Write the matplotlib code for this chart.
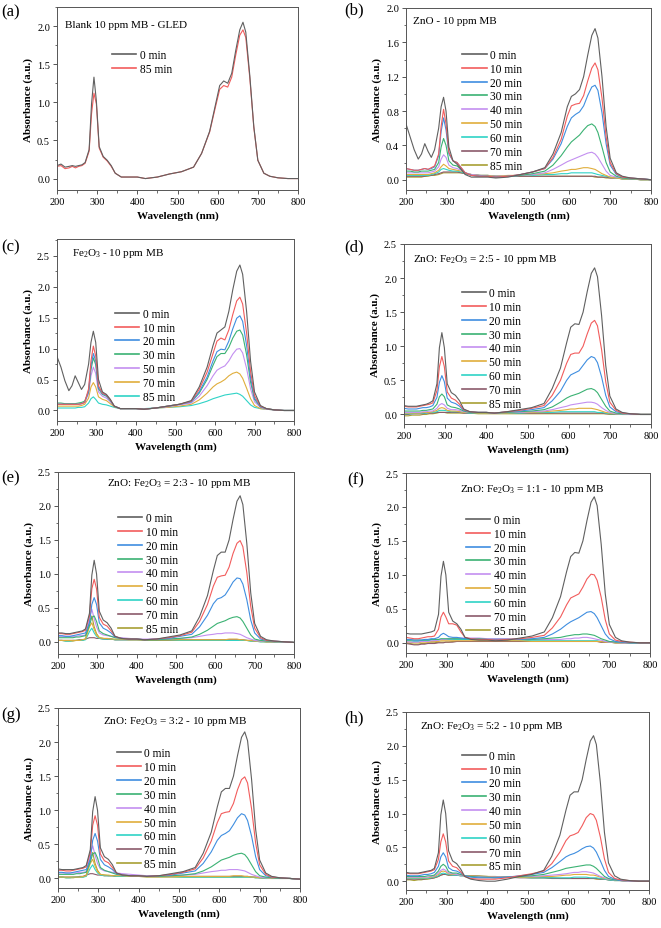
import matplotlib
matplotlib.use("Agg")
import matplotlib.pyplot as plt
from matplotlib.ticker import MultipleLocator, FormatStrFormatter

plt.rcParams['font.family'] = ['Liberation Serif', 'DejaVu Serif']
plt.rcParams['mathtext.fontset'] = 'custom'
plt.rcParams['mathtext.rm'] = 'Liberation Serif'
plt.rcParams['mathtext.it'] = 'Liberation Serif:italic'
plt.rcParams['mathtext.bf'] = 'Liberation Serif:bold'

# wavelength grid (nm) shared by every spectrum
wl = [200, 210, 220, 230, 238, 246, 254, 262, 270, 280, 286, 292, 298, 305, 315, 325, 335, 345, 360, 380,
      400, 420, 450, 480, 510, 540, 560, 580, 595, 605, 615, 625, 635, 645, 655, 663, 670, 680, 690, 700,
      715, 730, 750, 775, 800]

times_full = ['0 min', '10 min', '20 min', '30 min', '40 min', '50 min', '60 min', '70 min', '85 min']
times_a = ['0 min', '85 min']
times_c = ['0 min', '10 min', '20 min', '30 min', '50 min', '70 min', '85 min']

spec_a = [
    [0.17,0.19,0.15,0.16,0.17,0.16,0.17,0.18,0.21,0.38,0.98,1.33,1.02,0.42,0.29,0.24,0.17,0.07,0.02,0.02,0.02,0.00,0.02,0.06,0.09,0.15,0.33,0.62,0.98,1.22,1.28,1.25,1.38,1.68,1.95,2.05,1.92,1.35,0.68,0.24,0.07,0.03,0.01,0.00,0.00],
    [0.16,0.17,0.13,0.14,0.16,0.14,0.16,0.17,0.20,0.36,0.85,1.12,0.98,0.40,0.28,0.23,0.16,0.07,0.02,0.02,0.02,0.00,0.02,0.06,0.09,0.15,0.33,0.61,0.95,1.17,1.22,1.20,1.33,1.62,1.88,1.95,1.85,1.32,0.67,0.24,0.07,0.03,0.01,0.00,0.00],
]

spec_b = [
    [0.65,0.50,0.35,0.24,0.30,0.42,0.33,0.26,0.35,0.60,0.85,0.96,0.80,0.38,0.22,0.18,0.12,0.06,0.03,0.03,0.03,0.02,0.03,0.06,0.09,0.14,0.30,0.55,0.85,0.97,1.00,1.05,1.20,1.45,1.68,1.76,1.65,1.20,0.62,0.25,0.08,0.04,0.02,0.01,0.00],
    [0.13,0.12,0.11,0.11,0.12,0.13,0.12,0.14,0.16,0.30,0.62,0.82,0.65,0.32,0.22,0.20,0.14,0.08,0.05,0.04,0.04,0.03,0.04,0.06,0.09,0.13,0.26,0.47,0.74,0.86,0.88,0.89,0.98,1.15,1.30,1.36,1.28,0.95,0.50,0.20,0.07,0.03,0.02,0.01,0.00],
    [0.13,0.12,0.11,0.11,0.12,0.13,0.12,0.13,0.15,0.28,0.56,0.72,0.58,0.30,0.22,0.20,0.14,0.08,0.05,0.04,0.04,0.03,0.04,0.06,0.09,0.13,0.24,0.42,0.62,0.72,0.76,0.79,0.86,0.98,1.08,1.10,1.04,0.78,0.42,0.17,0.06,0.03,0.02,0.01,0.00],
    [0.10,0.10,0.09,0.09,0.10,0.10,0.10,0.11,0.12,0.20,0.38,0.48,0.40,0.22,0.17,0.16,0.12,0.08,0.05,0.04,0.04,0.03,0.04,0.05,0.07,0.10,0.17,0.28,0.38,0.44,0.48,0.52,0.58,0.63,0.65,0.62,0.55,0.38,0.20,0.09,0.04,0.02,0.01,0.01,0.00],
    [0.08,0.08,0.08,0.08,0.08,0.08,0.08,0.09,0.10,0.15,0.24,0.29,0.26,0.17,0.14,0.13,0.11,0.08,0.06,0.05,0.04,0.04,0.04,0.05,0.06,0.08,0.12,0.17,0.21,0.23,0.25,0.27,0.29,0.31,0.32,0.30,0.26,0.18,0.10,0.05,0.03,0.02,0.01,0.01,0.00],
    [0.06,0.06,0.06,0.06,0.06,0.06,0.06,0.07,0.08,0.11,0.15,0.18,0.16,0.13,0.12,0.11,0.10,0.08,0.06,0.05,0.05,0.04,0.05,0.05,0.06,0.07,0.08,0.10,0.11,0.12,0.12,0.13,0.14,0.14,0.13,0.12,0.10,0.07,0.05,0.03,0.02,0.01,0.01,0.00,0.00],
    [0.05,0.05,0.05,0.05,0.05,0.05,0.05,0.06,0.07,0.09,0.12,0.13,0.12,0.11,0.10,0.10,0.09,0.07,0.06,0.05,0.05,0.04,0.04,0.05,0.05,0.06,0.06,0.07,0.07,0.08,0.08,0.08,0.08,0.08,0.08,0.07,0.06,0.05,0.04,0.03,0.02,0.01,0.01,0.00,0.00],
    [0.04,0.04,0.04,0.04,0.04,0.04,0.05,0.05,0.06,0.07,0.08,0.09,0.09,0.09,0.09,0.09,0.08,0.07,0.06,0.05,0.05,0.04,0.04,0.04,0.04,0.04,0.04,0.04,0.04,0.04,0.04,0.04,0.04,0.04,0.04,0.04,0.03,0.03,0.03,0.02,0.02,0.01,0.01,0.00,0.00],
    [0.03,0.03,0.03,0.03,0.03,0.04,0.04,0.05,0.05,0.06,0.07,0.08,0.08,0.08,0.08,0.08,0.08,0.07,0.06,0.05,0.04,0.04,0.04,0.04,0.04,0.04,0.04,0.04,0.04,0.04,0.04,0.04,0.04,0.04,0.04,0.03,0.03,0.03,0.02,0.02,0.02,0.01,0.01,0.00,0.00],
]

spec_c = [
    [0.87,0.70,0.48,0.32,0.40,0.56,0.45,0.34,0.42,0.75,1.10,1.28,1.10,0.50,0.30,0.26,0.18,0.07,0.03,0.03,0.03,0.02,0.04,0.07,0.10,0.16,0.38,0.70,1.05,1.25,1.30,1.35,1.60,1.95,2.25,2.35,2.20,1.60,0.80,0.30,0.08,0.03,0.01,0.00,0.00],
    [0.10,0.10,0.10,0.10,0.10,0.10,0.10,0.11,0.13,0.35,0.80,1.04,0.88,0.40,0.28,0.25,0.17,0.07,0.03,0.03,0.03,0.02,0.04,0.07,0.10,0.15,0.34,0.62,0.92,1.12,1.17,1.14,1.30,1.55,1.77,1.83,1.72,1.25,0.63,0.24,0.07,0.03,0.01,0.00,0.00],
    [0.10,0.10,0.10,0.10,0.10,0.10,0.10,0.11,0.13,0.32,0.72,0.92,0.80,0.37,0.27,0.24,0.16,0.07,0.03,0.03,0.03,0.02,0.04,0.07,0.10,0.14,0.30,0.54,0.80,0.95,0.99,0.98,1.12,1.32,1.49,1.53,1.44,1.05,0.53,0.20,0.06,0.03,0.01,0.00,0.00],
    [0.12,0.12,0.11,0.11,0.11,0.11,0.12,0.13,0.15,0.30,0.66,0.85,0.74,0.35,0.26,0.23,0.16,0.07,0.03,0.03,0.03,0.02,0.04,0.07,0.10,0.14,0.28,0.50,0.73,0.87,0.92,0.92,1.02,1.17,1.28,1.30,1.22,0.90,0.46,0.18,0.06,0.03,0.01,0.00,0.00],
    [0.10,0.10,0.10,0.10,0.10,0.10,0.10,0.11,0.13,0.27,0.56,0.70,0.60,0.30,0.23,0.20,0.14,0.07,0.03,0.03,0.03,0.02,0.04,0.06,0.09,0.12,0.23,0.40,0.56,0.65,0.69,0.72,0.80,0.91,0.99,1.00,0.93,0.68,0.35,0.14,0.05,0.02,0.01,0.00,0.00],
    [0.07,0.07,0.07,0.07,0.07,0.07,0.07,0.08,0.10,0.20,0.38,0.45,0.38,0.22,0.18,0.16,0.11,0.06,0.03,0.03,0.03,0.02,0.04,0.05,0.07,0.10,0.17,0.28,0.38,0.43,0.46,0.50,0.56,0.60,0.62,0.59,0.52,0.36,0.19,0.08,0.03,0.02,0.01,0.00,0.00],
    [0.04,0.04,0.04,0.04,0.04,0.04,0.05,0.05,0.06,0.12,0.19,0.22,0.18,0.12,0.10,0.09,0.07,0.05,0.03,0.03,0.03,0.03,0.04,0.05,0.06,0.08,0.11,0.15,0.19,0.21,0.23,0.25,0.26,0.27,0.28,0.26,0.23,0.16,0.09,0.05,0.03,0.02,0.01,0.00,0.00],
]

spec_d = [
    [0.13,0.12,0.12,0.12,0.13,0.14,0.15,0.17,0.20,0.45,0.98,1.20,0.98,0.45,0.32,0.28,0.20,0.08,0.04,0.03,0.03,0.02,0.04,0.07,0.10,0.16,0.38,0.68,1.05,1.28,1.33,1.32,1.50,1.80,2.07,2.15,2.02,1.45,0.72,0.27,0.08,0.03,0.01,0.00,0.00],
    [0.12,0.11,0.11,0.11,0.12,0.13,0.14,0.15,0.17,0.35,0.70,0.85,0.70,0.33,0.24,0.21,0.15,0.07,0.04,0.03,0.03,0.02,0.04,0.06,0.09,0.13,0.28,0.50,0.75,0.88,0.90,0.90,1.00,1.18,1.34,1.38,1.30,0.95,0.48,0.18,0.06,0.02,0.01,0.00,0.00],
    [0.09,0.08,0.08,0.08,0.09,0.10,0.10,0.11,0.13,0.25,0.47,0.57,0.48,0.24,0.18,0.16,0.12,0.06,0.04,0.03,0.03,0.02,0.04,0.05,0.07,0.10,0.20,0.34,0.50,0.58,0.61,0.64,0.72,0.80,0.85,0.83,0.76,0.55,0.28,0.11,0.04,0.02,0.01,0.00,0.00],
    [0.05,0.05,0.05,0.05,0.05,0.06,0.06,0.07,0.08,0.15,0.26,0.30,0.26,0.14,0.11,0.10,0.08,0.05,0.03,0.03,0.03,0.02,0.03,0.04,0.05,0.07,0.11,0.18,0.24,0.27,0.29,0.31,0.34,0.37,0.38,0.36,0.32,0.22,0.12,0.05,0.02,0.01,0.01,0.00,0.00],
    [0.03,0.03,0.03,0.03,0.03,0.04,0.04,0.05,0.05,0.09,0.14,0.16,0.14,0.09,0.07,0.07,0.06,0.04,0.03,0.03,0.03,0.02,0.03,0.03,0.04,0.05,0.07,0.10,0.12,0.14,0.15,0.16,0.17,0.18,0.18,0.17,0.15,0.10,0.06,0.03,0.01,0.01,0.00,0.00,0.00],
    [0.02,0.02,0.02,0.02,0.02,0.03,0.03,0.03,0.04,0.06,0.09,0.10,0.09,0.06,0.05,0.05,0.04,0.03,0.03,0.02,0.02,0.02,0.02,0.03,0.03,0.04,0.05,0.06,0.07,0.08,0.08,0.09,0.09,0.09,0.09,0.08,0.07,0.05,0.03,0.02,0.01,0.01,0.00,0.00,0.00],
    [0.01,0.01,0.01,0.02,0.02,0.02,0.02,0.03,0.03,0.04,0.06,0.06,0.06,0.05,0.04,0.04,0.04,0.03,0.02,0.02,0.02,0.02,0.02,0.02,0.03,0.03,0.03,0.04,0.04,0.04,0.04,0.04,0.04,0.04,0.04,0.04,0.03,0.03,0.02,0.01,0.01,0.00,0.00,0.00,0.00],
    [0.00,0.00,0.01,0.01,0.01,0.01,0.02,0.02,0.02,0.03,0.03,0.03,0.03,0.03,0.03,0.03,0.03,0.02,0.02,0.02,0.02,0.02,0.02,0.02,0.02,0.02,0.02,0.02,0.02,0.02,0.02,0.02,0.02,0.02,0.02,0.02,0.02,0.02,0.01,0.01,0.01,0.00,0.00,0.00,0.00],
    [-0.02,-0.02,-0.01,-0.01,-0.01,0.00,0.00,0.01,0.01,0.02,0.03,0.03,0.03,0.02,0.02,0.02,0.02,0.02,0.02,0.01,0.01,0.01,0.01,0.01,0.01,0.01,0.01,0.01,0.01,0.01,0.01,0.01,0.01,0.01,0.01,0.01,0.01,0.01,0.01,0.00,0.00,0.00,0.00,0.00,0.00],
]

spec_e = [
    [0.13,0.13,0.12,0.12,0.13,0.14,0.15,0.16,0.19,0.42,0.98,1.20,1.00,0.45,0.32,0.28,0.20,0.08,0.05,0.04,0.04,0.03,0.04,0.07,0.10,0.16,0.37,0.68,1.05,1.27,1.32,1.32,1.50,1.80,2.07,2.15,2.02,1.45,0.72,0.27,0.08,0.03,0.01,0.00,-0.01],
    [0.12,0.12,0.11,0.11,0.12,0.13,0.14,0.15,0.17,0.38,0.78,0.92,0.78,0.36,0.26,0.23,0.16,0.08,0.05,0.04,0.04,0.03,0.04,0.06,0.09,0.14,0.30,0.55,0.82,0.95,0.97,0.98,1.10,1.30,1.45,1.49,1.40,1.02,0.52,0.20,0.06,0.02,0.01,0.00,-0.01],
    [0.09,0.09,0.08,0.08,0.09,0.10,0.11,0.12,0.13,0.28,0.55,0.65,0.55,0.28,0.20,0.17,0.13,0.07,0.05,0.04,0.04,0.03,0.04,0.05,0.08,0.11,0.22,0.39,0.56,0.63,0.65,0.69,0.78,0.88,0.94,0.93,0.85,0.62,0.32,0.13,0.04,0.02,0.01,0.00,-0.01],
    [0.06,0.06,0.06,0.06,0.06,0.07,0.07,0.08,0.09,0.24,0.36,0.38,0.30,0.16,0.12,0.10,0.08,0.06,0.05,0.04,0.04,0.03,0.03,0.04,0.05,0.07,0.11,0.17,0.23,0.27,0.29,0.31,0.34,0.36,0.37,0.35,0.30,0.20,0.10,0.04,0.02,0.01,0.00,0.00,-0.01],
    [0.08,0.08,0.08,0.08,0.08,0.08,0.09,0.09,0.10,0.35,0.48,0.34,0.22,0.13,0.10,0.09,0.08,0.07,0.06,0.05,0.04,0.04,0.04,0.04,0.05,0.06,0.08,0.10,0.11,0.12,0.12,0.13,0.13,0.13,0.12,0.11,0.09,0.06,0.04,0.02,0.01,0.01,0.00,0.00,-0.01],
    [0.02,0.02,0.02,0.02,0.02,0.02,0.02,0.03,0.04,0.22,0.28,0.18,0.10,0.06,0.05,0.05,0.04,0.04,0.04,0.03,0.03,0.03,0.03,0.03,0.03,0.03,0.03,0.03,0.03,0.03,0.03,0.03,0.04,0.04,0.04,0.03,0.03,0.02,0.02,0.01,0.01,0.00,0.00,0.00,-0.01],
    [0.02,0.02,0.01,0.01,0.02,0.02,0.02,0.02,0.03,0.15,0.20,0.13,0.08,0.05,0.04,0.04,0.04,0.03,0.03,0.03,0.03,0.03,0.03,0.03,0.02,0.02,0.02,0.02,0.02,0.02,0.02,0.02,0.02,0.02,0.02,0.02,0.02,0.02,0.01,0.01,0.00,0.00,0.00,0.00,-0.01],
    [0.02,0.02,0.02,0.02,0.02,0.02,0.03,0.03,0.04,0.06,0.06,0.06,0.05,0.05,0.04,0.04,0.04,0.03,0.03,0.03,0.03,0.03,0.03,0.03,0.03,0.03,0.03,0.03,0.03,0.03,0.03,0.03,0.03,0.03,0.03,0.03,0.03,0.02,0.02,0.01,0.01,0.00,0.00,0.00,-0.01],
    [0.02,0.02,0.01,0.01,0.01,0.02,0.02,0.02,0.04,0.30,0.38,0.22,0.12,0.06,0.05,0.04,0.04,0.03,0.03,0.03,0.03,0.02,0.02,0.02,0.02,0.02,0.02,0.02,0.02,0.02,0.02,0.02,0.02,0.02,0.02,0.02,0.02,0.02,0.01,0.01,0.00,0.00,0.00,0.00,-0.01],
]

spec_f = [
    [0.14,0.13,0.13,0.13,0.13,0.14,0.15,0.16,0.18,0.42,0.98,1.20,1.00,0.45,0.32,0.28,0.20,0.08,0.05,0.04,0.04,0.03,0.04,0.07,0.10,0.16,0.37,0.68,1.05,1.27,1.33,1.32,1.50,1.80,2.07,2.15,2.02,1.45,0.72,0.27,0.08,0.03,0.01,0.00,0.00],
    [0.08,0.07,0.06,0.06,0.07,0.08,0.09,0.09,0.10,0.20,0.38,0.45,0.38,0.28,0.28,0.26,0.16,0.08,0.06,0.05,0.05,0.04,0.05,0.06,0.08,0.11,0.22,0.38,0.56,0.66,0.69,0.72,0.82,0.94,1.01,1.00,0.92,0.67,0.34,0.13,0.04,0.02,0.01,0.00,0.00],
    [0.05,0.05,0.04,0.04,0.04,0.05,0.05,0.06,0.06,0.08,0.12,0.14,0.12,0.09,0.08,0.08,0.07,0.06,0.06,0.05,0.05,0.05,0.05,0.05,0.06,0.08,0.13,0.20,0.27,0.31,0.34,0.37,0.41,0.45,0.46,0.43,0.37,0.25,0.13,0.06,0.02,0.01,0.00,0.00,0.00],
    [0.04,0.04,0.04,0.04,0.04,0.04,0.04,0.05,0.05,0.05,0.06,0.06,0.06,0.06,0.06,0.06,0.06,0.06,0.06,0.06,0.05,0.05,0.05,0.05,0.05,0.06,0.07,0.08,0.10,0.11,0.12,0.12,0.13,0.13,0.12,0.11,0.09,0.06,0.04,0.02,0.01,0.01,0.00,0.00,0.00],
    [0.02,0.01,0.01,0.01,0.02,0.02,0.02,0.03,0.03,0.04,0.05,0.05,0.05,0.06,0.06,0.07,0.07,0.07,0.07,0.07,0.06,0.06,0.06,0.05,0.05,0.05,0.05,0.05,0.06,0.06,0.07,0.07,0.08,0.08,0.07,0.06,0.05,0.04,0.02,0.01,0.01,0.00,0.00,0.00,0.00],
    [0.01,0.01,0.00,0.00,0.01,0.01,0.01,0.02,0.02,0.02,0.03,0.03,0.03,0.03,0.03,0.03,0.03,0.03,0.03,0.03,0.03,0.03,0.03,0.03,0.02,0.02,0.02,0.02,0.02,0.02,0.02,0.02,0.02,0.02,0.02,0.02,0.02,0.02,0.01,0.01,0.00,0.00,0.00,0.00,0.00],
    [0.03,0.03,0.02,0.02,0.03,0.03,0.03,0.04,0.04,0.04,0.05,0.05,0.05,0.05,0.05,0.05,0.05,0.05,0.05,0.04,0.04,0.04,0.04,0.04,0.03,0.03,0.03,0.03,0.03,0.03,0.03,0.03,0.03,0.03,0.03,0.03,0.03,0.02,0.02,0.01,0.01,0.00,0.00,0.00,0.00],
    [-0.01,-0.02,-0.03,-0.03,-0.02,-0.02,-0.01,-0.01,-0.01,0.00,0.00,0.00,0.01,0.01,0.01,0.02,0.02,0.02,0.02,0.02,0.02,0.02,0.02,0.02,0.02,0.02,0.02,0.02,0.02,0.02,0.02,0.02,0.02,0.02,0.02,0.02,0.02,0.01,0.01,0.01,0.00,0.00,0.00,0.00,0.00],
    [0.00,-0.01,-0.02,-0.02,-0.01,-0.01,0.00,0.00,0.00,0.01,0.01,0.01,0.01,0.01,0.02,0.02,0.02,0.02,0.02,0.02,0.02,0.02,0.02,0.02,0.02,0.02,0.02,0.02,0.02,0.02,0.02,0.02,0.02,0.02,0.02,0.02,0.02,0.01,0.01,0.01,0.00,0.00,0.00,0.00,0.00],
]

spec_g = [
    [0.14,0.13,0.13,0.13,0.13,0.14,0.15,0.16,0.19,0.42,0.98,1.20,1.00,0.45,0.32,0.28,0.20,0.08,0.05,0.04,0.04,0.03,0.04,0.07,0.10,0.16,0.37,0.68,1.05,1.27,1.32,1.32,1.50,1.80,2.07,2.15,2.02,1.45,0.72,0.27,0.08,0.03,0.01,0.00,-0.01],
    [0.12,0.12,0.11,0.11,0.12,0.13,0.14,0.15,0.17,0.38,0.78,0.92,0.78,0.36,0.26,0.23,0.16,0.08,0.05,0.04,0.04,0.03,0.04,0.06,0.09,0.14,0.30,0.55,0.82,0.95,0.97,0.98,1.10,1.30,1.45,1.49,1.40,1.02,0.52,0.20,0.06,0.02,0.01,0.00,-0.01],
    [0.09,0.09,0.08,0.08,0.09,0.10,0.11,0.12,0.13,0.28,0.56,0.66,0.55,0.28,0.20,0.17,0.13,0.07,0.05,0.04,0.04,0.03,0.04,0.05,0.08,0.11,0.22,0.39,0.56,0.63,0.66,0.70,0.79,0.89,0.95,0.93,0.85,0.62,0.32,0.13,0.04,0.02,0.01,0.00,-0.01],
    [0.06,0.06,0.06,0.06,0.06,0.07,0.07,0.08,0.09,0.24,0.36,0.38,0.30,0.16,0.12,0.10,0.08,0.06,0.05,0.04,0.04,0.03,0.03,0.04,0.05,0.07,0.11,0.17,0.23,0.27,0.29,0.31,0.34,0.36,0.37,0.35,0.30,0.20,0.10,0.04,0.02,0.01,0.00,0.00,-0.01],
    [0.08,0.08,0.08,0.08,0.08,0.08,0.09,0.09,0.10,0.35,0.48,0.34,0.22,0.14,0.11,0.10,0.09,0.08,0.07,0.06,0.05,0.04,0.04,0.04,0.05,0.06,0.08,0.10,0.11,0.12,0.12,0.13,0.13,0.13,0.12,0.11,0.09,0.06,0.04,0.02,0.01,0.01,0.00,0.00,-0.01],
    [0.02,0.02,0.02,0.02,0.02,0.02,0.02,0.03,0.04,0.22,0.28,0.18,0.10,0.06,0.05,0.05,0.04,0.04,0.04,0.03,0.03,0.03,0.03,0.03,0.03,0.03,0.03,0.03,0.03,0.03,0.03,0.03,0.04,0.04,0.04,0.03,0.03,0.02,0.02,0.01,0.01,0.00,0.00,0.00,-0.01],
    [0.02,0.02,0.01,0.01,0.02,0.02,0.02,0.02,0.03,0.15,0.20,0.13,0.08,0.05,0.04,0.04,0.04,0.03,0.03,0.03,0.03,0.03,0.03,0.03,0.02,0.02,0.02,0.02,0.02,0.02,0.02,0.02,0.02,0.02,0.02,0.02,0.02,0.02,0.01,0.01,0.00,0.00,0.00,0.00,-0.01],
    [0.02,0.02,0.02,0.02,0.02,0.02,0.03,0.03,0.05,0.07,0.07,0.06,0.05,0.05,0.04,0.04,0.04,0.03,0.03,0.03,0.03,0.03,0.03,0.03,0.03,0.03,0.03,0.03,0.03,0.03,0.03,0.03,0.03,0.03,0.03,0.03,0.03,0.02,0.02,0.01,0.01,0.00,0.00,0.00,-0.01],
    [0.02,0.02,0.01,0.01,0.01,0.02,0.02,0.02,0.04,0.30,0.38,0.22,0.12,0.06,0.05,0.04,0.04,0.03,0.03,0.03,0.03,0.02,0.02,0.02,0.02,0.02,0.02,0.02,0.02,0.02,0.02,0.02,0.02,0.02,0.02,0.02,0.02,0.02,0.01,0.01,0.00,0.00,0.00,0.00,-0.01],
]

spec_h = [
    [0.13,0.12,0.12,0.12,0.13,0.14,0.15,0.16,0.19,0.42,0.98,1.20,1.00,0.45,0.30,0.26,0.18,0.07,0.03,0.01,0.00,0.00,0.03,0.07,0.10,0.16,0.37,0.68,1.05,1.27,1.32,1.32,1.50,1.80,2.07,2.15,2.02,1.45,0.72,0.27,0.08,0.03,0.01,0.00,0.00],
    [0.12,0.11,0.11,0.11,0.12,0.13,0.14,0.15,0.17,0.32,0.58,0.70,0.58,0.30,0.22,0.20,0.14,0.07,0.04,0.03,0.03,0.03,0.05,0.08,0.11,0.15,0.26,0.43,0.60,0.67,0.69,0.72,0.82,0.94,1.00,0.98,0.90,0.65,0.33,0.13,0.04,0.02,0.01,0.00,0.00],
    [0.09,0.08,0.08,0.08,0.09,0.10,0.10,0.11,0.13,0.22,0.36,0.42,0.36,0.20,0.16,0.15,0.12,0.08,0.06,0.05,0.05,0.05,0.06,0.08,0.10,0.13,0.20,0.29,0.36,0.39,0.41,0.44,0.48,0.51,0.52,0.49,0.43,0.30,0.16,0.07,0.03,0.01,0.01,0.00,0.00],
    [0.07,0.07,0.07,0.07,0.07,0.07,0.08,0.08,0.09,0.15,0.22,0.25,0.22,0.14,0.12,0.12,0.10,0.08,0.07,0.06,0.06,0.05,0.06,0.07,0.08,0.10,0.13,0.16,0.19,0.20,0.21,0.22,0.23,0.24,0.24,0.22,0.19,0.13,0.07,0.04,0.02,0.01,0.01,0.00,0.00],
    [0.06,0.06,0.06,0.06,0.06,0.06,0.06,0.07,0.08,0.12,0.16,0.18,0.16,0.12,0.11,0.10,0.09,0.08,0.07,0.07,0.06,0.06,0.06,0.07,0.07,0.08,0.09,0.10,0.11,0.12,0.13,0.13,0.14,0.14,0.13,0.12,0.10,0.07,0.05,0.03,0.02,0.01,0.00,0.00,0.00],
    [0.05,0.05,0.05,0.05,0.05,0.05,0.05,0.06,0.07,0.10,0.14,0.15,0.14,0.11,0.10,0.10,0.09,0.08,0.08,0.07,0.07,0.06,0.06,0.06,0.06,0.07,0.07,0.08,0.09,0.09,0.10,0.10,0.10,0.10,0.09,0.09,0.08,0.06,0.04,0.03,0.02,0.01,0.00,0.00,0.00],
    [0.04,0.04,0.04,0.04,0.04,0.04,0.04,0.05,0.06,0.08,0.11,0.12,0.11,0.10,0.09,0.09,0.08,0.08,0.07,0.07,0.06,0.06,0.06,0.06,0.05,0.05,0.05,0.05,0.05,0.05,0.06,0.06,0.06,0.06,0.05,0.05,0.05,0.04,0.03,0.02,0.01,0.01,0.00,0.00,0.00],
    [0.03,0.03,0.03,0.03,0.03,0.03,0.04,0.04,0.05,0.07,0.09,0.10,0.10,0.09,0.09,0.09,0.08,0.08,0.08,0.07,0.07,0.06,0.06,0.05,0.05,0.05,0.04,0.04,0.04,0.04,0.04,0.04,0.04,0.04,0.04,0.04,0.04,0.03,0.03,0.02,0.01,0.01,0.00,0.00,0.00],
    [0.02,0.02,0.01,0.02,0.02,0.03,0.03,0.04,0.05,0.07,0.09,0.10,0.10,0.09,0.09,0.09,0.09,0.08,0.08,0.08,0.07,0.07,0.06,0.06,0.05,0.05,0.05,0.04,0.04,0.04,0.04,0.04,0.04,0.04,0.04,0.04,0.03,0.03,0.03,0.02,0.01,0.01,0.00,0.00,0.00],
]

colors = ['#606060', '#f25c5c', '#3f8ee0', '#3bb273', '#c38ff0', '#e0ae3c', '#2fd3c6', '#8b5a6b', '#a8a035']

W_PX, H_PX = 661, 929

# panel layout: label, title, data, legend labels, y-lims, y-step, axes box (px), title pos, legend pos, label pos
panels = [
    ('(a)', 'Blank 10 ppm MB - GLED', spec_a, times_a, (-0.15, 2.25), 0.5, (57, 8, 241, 183), (0.033, 0.907), (0.228, 0.77), (1, 12)),
    ('(b)', 'ZnO - 10 ppm MB', spec_b, times_full, (-0.12, 2.0), 0.4, (406, 9, 245, 182), (0.03, 0.93), (0.23, 0.775), (344, 10)),
    ('(c)', 'Fe$_2$O$_3$ - 10 ppm MB', spec_c, times_c, (-0.17, 2.77), 0.5, (57, 240, 237, 182), (0.062, 0.927), (0.245, 0.622), (1, 247)),
    ('(d)', 'ZnO: Fe$_2$O$_3$ = 2:5 - 10 ppm MB', spec_d, times_full, (-0.14, 2.5), 0.5, (404, 245, 247, 180), (0.038, 0.92), (0.234, 0.761), (344, 247)),
    ('(e)', 'ZnO: Fe$_2$O$_3$ = 2:3 - 10 ppm MB', spec_e, times_full, (-0.18, 2.5), 0.5, (58, 473, 236, 182), (0.206, 0.94), (0.254, 0.78), (1, 478)),
    ('(f)', 'ZnO: Fe$_2$O$_3$ = 1:1 - 10 ppm MB', spec_f, times_full, (-0.15, 2.5), 0.5, (406, 474, 244, 180), (0.221, 0.915), (0.246, 0.773), (347, 480)),
    ('(g)', 'ZnO: Fe$_2$O$_3$ = 3:2 - 10 ppm MB', spec_g, times_full, (-0.14, 2.5), 0.5, (58, 709, 242, 180), (0.187, 0.93), (0.243, 0.781), (1, 715)),
    ('(h)', 'ZnO: Fe$_2$O$_3$ = 5:2 - 10 ppm MB', spec_h, times_full, (-0.13, 2.5), 0.5, (406, 713, 243, 178), (0.058, 0.923), (0.229, 0.788), (344, 718)),
]

fig = plt.figure(figsize=(W_PX / 100, H_PX / 100), dpi=100)
spine_col = '#555555'

for lab, title, spec, times, ylim, ystep, box, tpos, lpos, labpos in panels:
    x0, y0, w, h = box
    ax = fig.add_axes([x0 / W_PX, 1 - (y0 + h) / H_PX, w / W_PX, h / H_PX])
    # late curves first so the early (large) ones sit on top
    lines = {}
    for i in range(len(spec) - 1, -1, -1):
        lines[i], = ax.plot(wl, spec[i], color=colors[i], lw=0.8, label=times[i])
    ax.set_xlim(200, 800)
    ax.set_ylim(*ylim)
    ax.xaxis.set_major_locator(MultipleLocator(100))
    ax.xaxis.set_minor_locator(MultipleLocator(50))
    ax.yaxis.set_major_locator(MultipleLocator(ystep))
    ax.yaxis.set_minor_locator(MultipleLocator(ystep / 2))
    ax.yaxis.set_major_formatter(FormatStrFormatter('%.1f'))
    ax.tick_params(which='both', direction='out', color=spine_col, labelsize=7.5, pad=2)
    ax.tick_params(which='major', length=3, width=0.7)
    ax.tick_params(which='minor', length=1.8, width=0.6)
    for s in ax.spines.values():
        s.set_color(spine_col)
        s.set_linewidth(0.7)
    ax.set_xlabel('Wavelength (nm)', fontsize=8, fontweight='bold', labelpad=3)
    ax.set_ylabel('Absorbance (a.u.)', fontsize=8, fontweight='bold', labelpad=3)
    ax.text(tpos[0], tpos[1], title, transform=ax.transAxes, fontsize=8, ha='left', va='center')
    order = list(range(len(spec)))
    leg = ax.legend([lines[i] for i in order], [times[i] for i in order], loc='upper left',
                    bbox_to_anchor=lpos, frameon=False, fontsize=8.3, handlelength=2.1,
                    handletextpad=0.3, labelspacing=0.16, borderpad=0, borderaxespad=0)
    for ln in leg.get_lines():
        ln.set_linewidth(1.2)
    fig.text(labpos[0] / W_PX, 1 - labpos[1] / H_PX, lab, fontsize=12, ha='left', va='center')

fig.savefig('out.png', dpi=100)
